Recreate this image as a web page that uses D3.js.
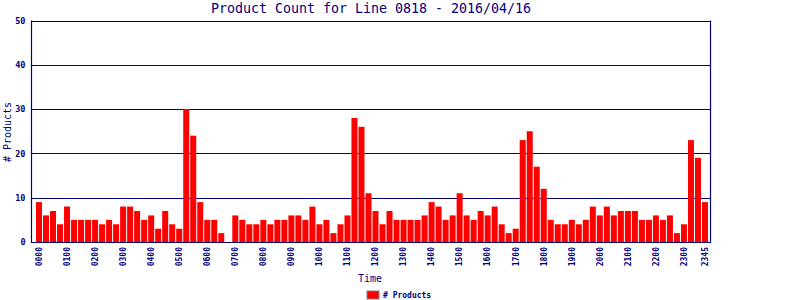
<!DOCTYPE html>
<html><head><meta charset="utf-8">
<script src="https://cdn.jsdelivr.net/npm/d3@7/dist/d3.min.js"></script>
<style>body{margin:0;background:#fff}</style>
</head><body>
<svg id="c" width="800" height="300"></svg>
<script>
const title = "Product Count for Line 0818 - 2016/04/16";
const seriesName = "# Products";
const values = [
 9,6,7,4,8,5,5,5,5,4,
 5,4,8,8,7,5,6,3,7,4,
 3,30,24,9,5,5,2,0,6,5,
 4,4,5,4,5,5,6,6,5,8,
 4,5,2,4,6,28,26,11,7,4,
 7,5,5,5,5,6,9,8,5,6,
 11,6,5,7,6,8,4,2,3,23,
 25,17,12,5,4,4,5,4,5,8,
 6,8,6,7,7,7,5,5,6,5,
 6,2,4,23,19,9
];
const yTicks = [0,10,20,30,40,50];
const times = values.map((v,i)=>{const h=Math.floor(i/4), m=(i%4)*15; return String(h).padStart(2,"0")+String(m).padStart(2,"0");});
const tickLabels = ["0000","0100","0200","0300","0400","0500","0600","0700","0800","0900","1000","1100","1200","1300","1400","1500","1600","1700","1800","1900","2000","2100","2200","2300","2345"];

const navy = "#000080";
const mono = "'DejaVu Sans Mono', monospace";
const L = 31.5, R = 710.5, T = 20.5, B = 242;
const svg = d3.select("#c");

const x = d3.scaleBand().domain(times).range([36, 708]).paddingInner(1/7);
const y = d3.scaleLinear().domain([0,50]).range([B, T]);

// grid
svg.append("g").selectAll("line").data(yTicks.filter(d=>d>0)).join("line")
  .attr("x1", L).attr("x2", R).attr("y1", d=>Math.round(y(d))+0.5).attr("y2", d=>Math.round(y(d))+0.5)
  .attr("stroke", navy).attr("stroke-width", 1.2);

// bars
svg.append("g").selectAll("rect").data(values).join("rect")
  .attr("x", (d,i)=>x(times[i])).attr("width", x.bandwidth())
  .attr("y", d=>y(d)).attr("height", d=>B - y(d))
  .attr("fill", "#ff0000");

// axes frame
svg.append("line").attr("x1",L).attr("x2",L).attr("y1",T).attr("y2",B+1).attr("stroke",navy).attr("stroke-width",1.2);
svg.append("line").attr("x1",R).attr("x2",R).attr("y1",T).attr("y2",B+1).attr("stroke",navy).attr("stroke-width",1.2);
svg.append("line").attr("x1",L).attr("x2",R).attr("y1",B+0.5).attr("y2",B+0.5).attr("stroke",navy).attr("stroke-width",1.2);

// y axis labels
const yAxis = d3.axisLeft(y).tickValues(yTicks).tickSize(0).tickPadding(6);
const gy = svg.append("g").attr("transform", `translate(${L},0)`).call(yAxis);
gy.select(".domain").remove();
gy.selectAll("text").attr("font-family", mono).attr("font-size", "8.5px").attr("font-weight","bold").attr("fill", navy);

// x axis labels
const xAxis = d3.axisBottom(x).tickValues(tickLabels).tickSize(0).tickPadding(0);
const gx = svg.append("g").attr("transform", `translate(0,${B})`).call(xAxis);
gx.select(".domain").remove();
gx.selectAll("text")
  .attr("font-family", mono).attr("font-size", "8px").attr("font-weight","bold").attr("fill", navy)
  .attr("text-anchor","end").attr("dy","0.35em")
  .attr("transform","translate(0,5) rotate(-90)");

// title
svg.append("text").attr("x", 371).attr("y", 13).attr("text-anchor","middle")
  .attr("font-family", mono).attr("font-size","13.3px").attr("fill", navy).text(title);

// axis titles
svg.append("text").attr("x", 370).attr("y", 282).attr("text-anchor","middle")
  .attr("font-family", mono).attr("font-size","10px").attr("fill", navy).text("Time");
svg.append("text").attr("transform","translate(10.5,132) rotate(-90)").attr("text-anchor","middle")
  .attr("font-family", mono).attr("font-size","10px").attr("fill", navy).text("# Products");

// legend
svg.append("rect").attr("x",367).attr("y",291).attr("width",12).attr("height",8)
  .attr("fill","#ff0000").attr("stroke","#808080").attr("stroke-width",1);
svg.append("text").attr("x",383).attr("y",298).attr("font-family", mono).attr("font-size","8px")
  .attr("font-weight","bold").attr("fill", navy).text(seriesName);
</script>
</body></html>
